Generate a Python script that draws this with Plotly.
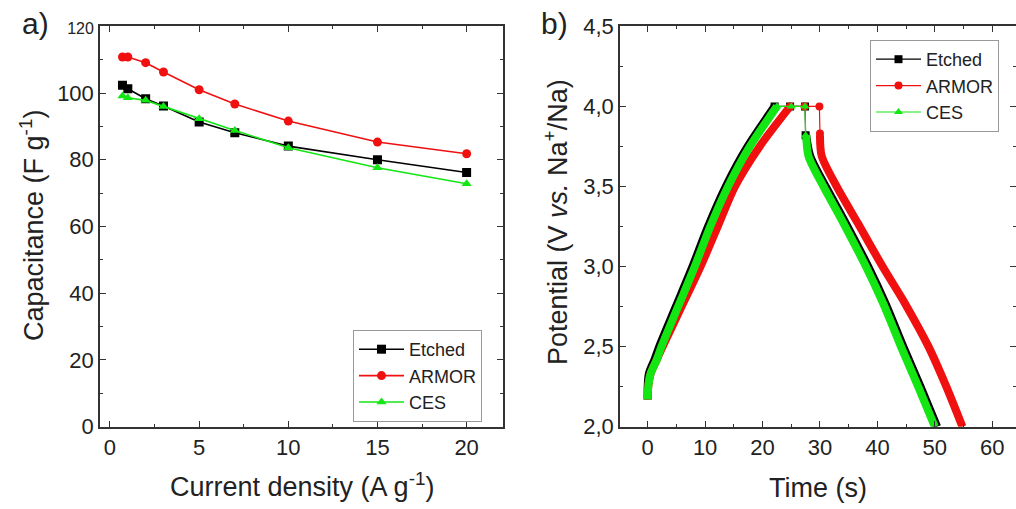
import plotly.graph_objects as go

# ---------------- Panel a) data ----------------
current_density = [0.7, 1, 2, 3, 5, 7, 10, 15, 20]
cap_etched = [102.3, 101.3, 98.3, 96.1, 91.3, 88.1, 84.1, 80.0, 76.2]
cap_armor = [110.8, 110.8, 109.1, 106.3, 101.0, 96.7, 91.6, 85.3, 81.8]
cap_ces = [99.1, 98.6, 97.8, 96.0, 92.3, 88.8, 83.6, 77.6, 72.8]

# ---------------- Panel b) data ----------------
charge_v = [2.17, 2.25, 2.33, 2.42, 2.5, 2.75, 3.0, 3.25, 3.5, 3.75, 4.0]
etched_charge_t = [0.0, 0.0, 0.2, 1.2, 2.0, 4.9, 7.8, 10.5, 13.6, 17.4, 22.1]
armor_charge_t = [0.0, 0.1, 0.5, 1.6, 2.6, 5.9, 9.2, 12.2, 15.2, 19.5, 24.8]
ces_charge_t = [0.0, 0.1, 0.5, 1.6, 2.4, 5.3, 8.2, 10.9, 14.0, 17.8, 22.5]

etched_hold_t = [22.1, 24.8, 27.4, 27.5]
etched_hold_v = [4.0, 4.0, 4.0, 3.82]
armor_hold_t = [24.8, 27.3, 29.9, 30.0]
armor_hold_v = [4.0, 4.0, 4.0, 3.83]
ces_hold_t = [22.5, 25.0, 27.4, 27.5]
ces_hold_v = [4.0, 4.0, 4.0, 3.82]

discharge_v = [3.82, 3.69, 3.5, 3.27, 3.0, 2.77, 2.5, 2.25, 2.0]
etched_discharge_t = [27.6, 28.3, 31.0, 34.5, 38.4, 41.4, 44.5, 47.5, 50.4]
armor_discharge_t = [30.0, 30.3, 32.9, 36.6, 40.9, 44.8, 48.9, 52.0, 54.8]
ces_discharge_t = [27.6, 28.0, 30.6, 34.1, 38.0, 41.0, 44.1, 47.1, 50.0]

BLACK = "#000000"
RED = "#f01010"
GREEN = "#14e614"
FONT = "Liberation Sans, Arial, sans-serif"
AXC = "#333333"
TXT = "#222222"

fig = go.Figure()

# Panel a traces
for name, vals, col, sym in [("Etched", cap_etched, BLACK, "square"),
                             ("ARMOR", cap_armor, RED, "circle"),
                             ("CES", cap_ces, GREEN, "triangle-up")]:
    fig.add_trace(go.Scatter(
        x=current_density, y=vals, name=name, mode="lines+markers",
        line=dict(color=col, width=1.6),
        marker=dict(color=col, size=9, symbol=sym),
        xaxis="x", yaxis="y", legend="legend"))

# Panel b traces
series_b = [
    ("Etched", BLACK, "square", etched_charge_t, etched_hold_t, etched_hold_v, etched_discharge_t),
    ("ARMOR", RED, "circle", armor_charge_t, armor_hold_t, armor_hold_v, armor_discharge_t),
    ("CES", GREEN, "triangle-up", ces_charge_t, ces_hold_t, ces_hold_v, ces_discharge_t),
]
for name, col, sym, ct, ht, hv, dt in series_b:
    fig.add_trace(go.Scatter(
        x=ct, y=charge_v, mode="lines", line=dict(color=col, width=8, shape="spline", smoothing=0.8),
        showlegend=False, legendgroup=name, xaxis="x2", yaxis="y2", hoverinfo="skip"))
    fig.add_trace(go.Scatter(
        x=dt, y=discharge_v, mode="lines", line=dict(color=col, width=8, shape="spline", smoothing=0.8),
        showlegend=False, legendgroup=name, xaxis="x2", yaxis="y2", hoverinfo="skip"))
    fig.add_trace(go.Scatter(
        x=ht, y=hv, name=name, mode="lines+markers", line=dict(color=col, width=1.2),
        marker=dict(color=col, size=8, symbol=sym),
        legendgroup=name, xaxis="x2", yaxis="y2", legend="legend2"))

H = 509.0
ydom = [1 - 426.7 / H, 1 - 26.3 / H]

common_axis = dict(showline=True, linecolor=AXC, linewidth=1.5, mirror="ticks",
                   ticks="inside", ticklen=6, tickwidth=1.2, tickcolor=AXC,
                   showgrid=False, zeroline=False, automargin=False,
                   tickfont=dict(family=FONT, size=22, color=TXT))

leg_common = dict(xanchor="left", yanchor="top", bgcolor="white", bordercolor="#999999",
                  borderwidth=1, font=dict(family=FONT, size=18, color=TXT),
                  tracegroupgap=0, itemwidth=45)

fig.update_layout(
    width=1016, height=509,
    margin=dict(l=0, r=0, t=0, b=0, autoexpand=False),
    paper_bgcolor="white", plot_bgcolor="white",
    separators=",.",
    font=dict(family=FONT, color=TXT),
    xaxis=dict(domain=[100 / 1016, 503 / 1016], range=[-0.56, 22.04], tickvals=[0, 5, 10, 15, 20],
               minor=dict(ticks="inside", ticklen=3, dtick=2.5, tick0=0, tickcolor=AXC),
               anchor="y", **common_axis),
    yaxis=dict(domain=ydom, range=[0, 120], tickvals=[0, 20, 40, 60, 80, 100, 120],
               ticktext=["0", "20", "40", "60", "80", "100", '<span style="font-size:16px">120</span>'],
               minor=dict(ticks="inside", ticklen=3, dtick=10, tick0=0, tickcolor=AXC),
               anchor="x", **common_axis),
    xaxis2=dict(domain=[620 / 1016, 1.0], range=[-4.82, 64.13], tickvals=[0, 10, 20, 30, 40, 50, 60],
                minor=dict(ticks="inside", ticklen=3, dtick=5, tick0=0, tickcolor=AXC),
                anchor="y2", **common_axis),
    yaxis2=dict(domain=ydom, range=[2.0, 4.5], tickvals=[2.0, 2.5, 3.0, 3.5, 4.0, 4.5], tickformat=".1f",
                minor=dict(ticks="inside", ticklen=3, dtick=0.25, tick0=2.0, tickcolor=AXC),
                anchor="x2", **common_axis),
    legend=dict(x=353 / 1016, y=1 - 330 / H, **leg_common),
    legend2=dict(x=870 / 1016, y=1 - 40 / H, **leg_common),
    showlegend=True,
)

ann_font = dict(family=FONT, size=27, color=TXT)
fig.add_annotation(text="Capacitance (F g<sup>-1</sup>)", x=32 / 1016, y=1 - 226 / H, xref="paper", yref="paper",
                   textangle=-90, showarrow=False, font=ann_font, xanchor="center", yanchor="middle")
fig.add_annotation(text="Current density (A g<sup>-1</sup>)", x=301.5 / 1016, y=1 - 485 / H, xref="paper", yref="paper",
                   showarrow=False, font=ann_font, xanchor="center", yanchor="middle")
fig.add_annotation(text="Potential (V <i>vs.</i> Na<sup>+</sup>/Na)", x=556 / 1016, y=1 - 222 / H, xref="paper", yref="paper",
                   textangle=-90, showarrow=False, font=ann_font, xanchor="center", yanchor="middle")
fig.add_annotation(text="Time (s)", x=818 / 1016, y=1 - 488 / H, xref="paper", yref="paper",
                   showarrow=False, font=ann_font, xanchor="center", yanchor="middle")
fig.add_annotation(text="a)", x=35 / 1016, y=1 - 24 / H, xref="paper", yref="paper",
                   showarrow=False, font=dict(family=FONT, size=30, color=TXT), xanchor="center", yanchor="middle")
fig.add_annotation(text="b)", x=554 / 1016, y=1 - 24 / H, xref="paper", yref="paper",
                   showarrow=False, font=dict(family=FONT, size=30, color=TXT), xanchor="center", yanchor="middle")

fig.write_html("out.html", config={"displayModeBar": False},
               post_script="document.body.style.margin='0';document.body.style.overflow='hidden';")
